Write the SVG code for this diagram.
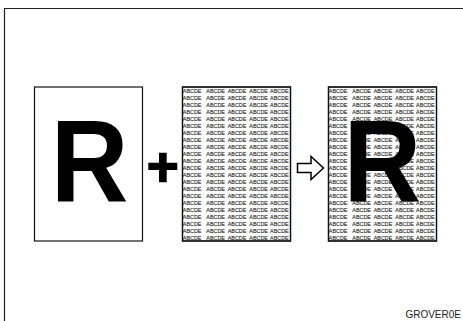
<svg xmlns="http://www.w3.org/2000/svg" xmlns:xlink="http://www.w3.org/1999/xlink" width="463" height="321" viewBox="0 0 463 321">
<style>
.box{fill:#fff;stroke:#111;stroke-width:1.2}
.pat{font-family:"Liberation Sans",Arial,sans-serif;font-size:5.4px;fill:#111;stroke:#444;stroke-width:0.12}
.bigR{font-family:"Liberation Sans",Arial,Helvetica,sans-serif;font-weight:bold;font-size:117px;fill:#000}
.lbl{font-family:"Liberation Sans",Arial,sans-serif;font-size:10px;fill:#222}
</style>
<defs>
<clipPath id="bc"><rect x="0" y="0" width="108" height="154"/></clipPath>
<g id="row"><text class="pat" y="0"><tspan x="0.3">ABCDE</tspan><tspan x="23.8">ABCDE</tspan><tspan x="45.2">ABCDE</tspan><tspan x="66.8">ABCDE</tspan><tspan x="87.6">ABCDE</tspan></text></g>
<g id="pattern">
<g clip-path="url(#bc)">
<use xlink:href="#row" y="6.3"/><use xlink:href="#row" y="13.3"/><use xlink:href="#row" y="20.3"/><use xlink:href="#row" y="27.3"/><use xlink:href="#row" y="34.3"/><use xlink:href="#row" y="41.3"/><use xlink:href="#row" y="48.3"/><use xlink:href="#row" y="55.3"/><use xlink:href="#row" y="62.3"/><use xlink:href="#row" y="69.3"/><use xlink:href="#row" y="76.3"/><use xlink:href="#row" y="83.3"/><use xlink:href="#row" y="90.3"/><use xlink:href="#row" y="97.3"/><use xlink:href="#row" y="104.3"/><use xlink:href="#row" y="111.3"/><use xlink:href="#row" y="118.3"/><use xlink:href="#row" y="125.3"/><use xlink:href="#row" y="132.3"/><use xlink:href="#row" y="139.3"/><use xlink:href="#row" y="146.3"/><use xlink:href="#row" y="153.3"/>
</g>
</g>
</defs>
<rect width="463" height="321" fill="#fff"/>
<path d="M4.5 321V8.5H463" fill="none" stroke="#222" stroke-width="1.2"/>
<g id="original">
<rect class="box" x="34.5" y="87" width="108" height="154"/>
<text class="bigR" transform="translate(50.8 202) scale(0.92 1)">R</text>
</g>
<g id="background">
<rect class="box" x="182.5" y="87" width="108" height="154"/>
<use xlink:href="#pattern" x="182.5" y="87"/>
<rect x="182.5" y="87" width="108" height="154" fill="none" stroke="#111" stroke-width="1.3"/>
</g>
<g id="result">
<rect class="box" x="328.5" y="87" width="108" height="154"/>
<use xlink:href="#pattern" x="328.5" y="87"/>
<text class="bigR" transform="translate(343.5 202) scale(0.92 1)">R</text>
<rect x="328.5" y="87" width="108" height="154" fill="none" stroke="#111" stroke-width="1.3"/>
</g>
<g id="connectors">
<path d="M148.3 162.7H177.3V170H148.3Z M159 152.7H166.7V182.3H159Z" fill="#000"/>
<polygon points="297.5,163.5 311,163.5 311,156.5 323.5,168 311,179.5 311,172.5 297.5,172.5" fill="#fff" stroke="#000" stroke-width="1.5" stroke-linejoin="miter"/>
</g>
<text class="lbl" x="461" y="318" text-anchor="end">GROVER0E</text>
</svg>
